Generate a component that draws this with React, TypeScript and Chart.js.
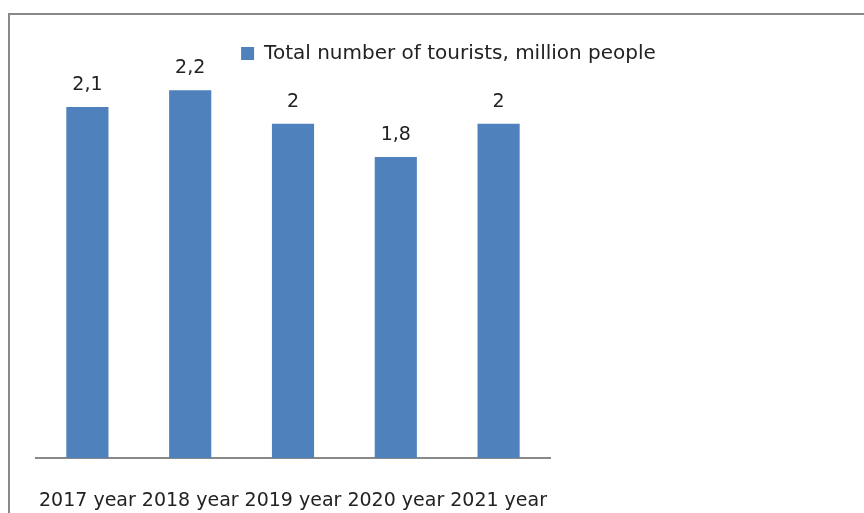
import React, { useEffect, useRef } from 'react';
import { Chart, registerables } from 'chart.js';

Chart.register(...registerables);

const categories = ['2017 year', '2018 year', '2019 year', '2020 year', '2021 year'];
const tourists = [2.1, 2.2, 2, 1.8, 2];
const seriesName = 'Total number of tourists, million people';
const yMin = 0;
const yMax = 2.3;

const FONT = '"DejaVu Sans", sans-serif';
const TEXT = '#222222';

const dataLabels = {
  id: 'dataLabels',
  afterDatasetsDraw(chart: any) {
    const ctx = chart.ctx;
    const meta = chart.getDatasetMeta(0);
    const ds = chart.data.datasets[0];
    ctx.save();
    ctx.font = '19px ' + FONT;
    ctx.fillStyle = TEXT;
    ctx.textAlign = 'center';
    ctx.textBaseline = 'alphabetic';
    meta.data.forEach((el: any, i: number) => {
      const v = ds.data[i] as number;
      ctx.fillText(String(v).replace('.', ','), el.x, el.y - 17);
    });
    ctx.restore();
  },
};

export default function App() {
  const ref = useRef<HTMLCanvasElement | null>(null);
  useEffect(() => {
    if (!ref.current) return;
    const chart = new Chart(ref.current, {
      type: 'bar',
      data: {
        labels: categories,
        datasets: [
          {
            label: seriesName,
            data: tourists,
            backgroundColor: '#4F81BD',
            borderWidth: 0,
            categoryPercentage: 1,
            barPercentage: 0.41,
          },
        ],
      },
      options: {
        responsive: false,
        animation: false,
        devicePixelRatio: 1,
        layout: { padding: { left: 28, right: 0, top: 25.5, bottom: 4 } },
        plugins: {
          legend: {
            position: 'top',
            align: 'center',
            labels: {
              boxWidth: 13,
              boxHeight: 13,
              padding: 10,
              color: TEXT,
              font: { family: FONT, size: 20 },
            },
          },
          tooltip: { enabled: false },
        },
        scales: {
          x: {
            grid: { display: false, drawTicks: false },
            border: { display: true, color: '#898989', width: 2 },
            ticks: {
              color: TEXT,
              font: { family: FONT, size: 19 },
              padding: 31.5,
              autoSkip: false,
              maxRotation: 0,
              minRotation: 0,
            },
            afterFit: (s: any) => {
              s.paddingLeft = 0;
              s.paddingRight = 0;
              s.height = 56;
            },
          },
          y: {
            position: 'right',
            min: yMin,
            max: yMax,
            grid: { display: false },
            border: { display: false },
            ticks: { display: false },
            afterFit: (s: any) => {
              s.width = 311;
            },
          },
        },
      },
      plugins: [dataLabels],
    } as any);
    return () => chart.destroy();
  }, []);

  return (
    <div
      style={{
        position: 'fixed',
        left: 8,
        top: 8,
        width: 856,
        height: 505,
        overflow: 'hidden',
        background: '#ffffff',
      }}
    >
      <div
        style={{
          position: 'absolute',
          left: 0,
          top: 5,
          width: 2000,
          height: 2000,
          borderTop: '2px solid #898989',
          borderLeft: '2px solid #898989',
        }}
      />
      <canvas
        ref={ref}
        width={853}
        height={510}
        style={{ position: 'absolute', left: 0, top: 0, width: 853, height: 510 }}
      />
    </div>
  );
}
